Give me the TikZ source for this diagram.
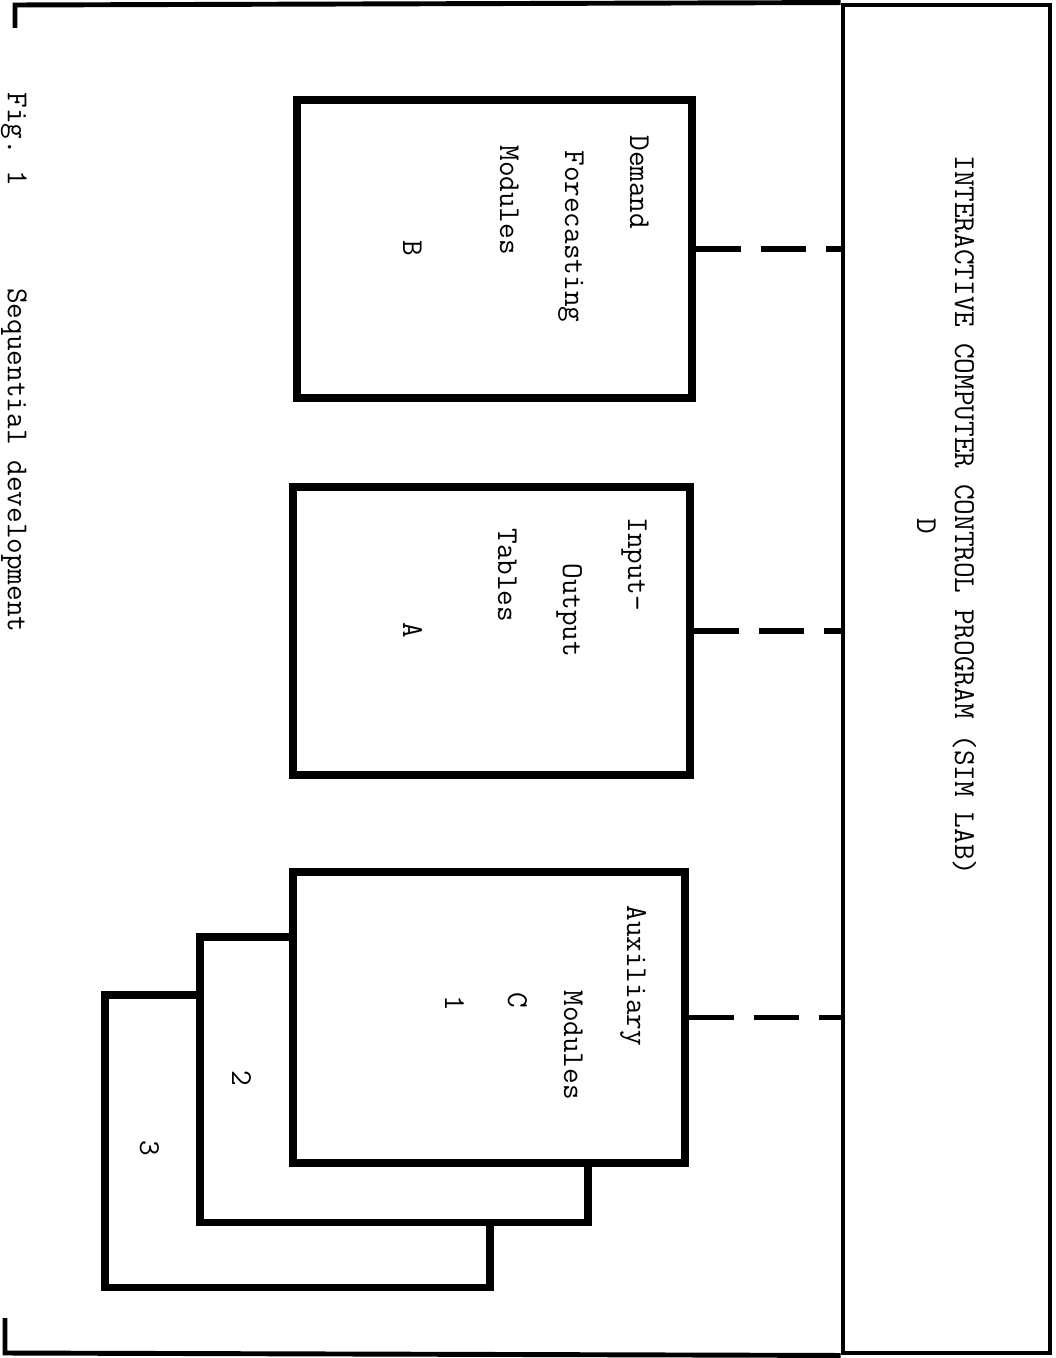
\documentclass[tikz,border=0pt]{standalone}
\usetikzlibrary{fit}

\tikzset{
  modbox/.style={draw, line width=4pt, fill=white, inner sep=0pt},
  panelline/.style={line width=2.8pt},
  link/.style={line width=3.4pt, dash pattern=on 0.9cm off 0.4cm},
  lbl/.style={rotate=-90, anchor=base west, inner sep=0pt,
    font=\ttfamily\fontsize{17.3}{20}\selectfont},
}

\begin{document}
\begin{tikzpicture}[x=0.02cm, y=-0.02cm]
  \useasboundingbox (0,0) rectangle (1055,1358);

  % control program panel and open frame
  \node[draw, line width=2.8pt, inner sep=0pt, fit={(843,5) (1050,1353)}] (D) {};
  \draw[panelline] (15,28) -- (15,5) -- (D.north west);
  \draw[panelline] (5,1318) -- (5,1353) -- (D.south west);

  \node[lbl] (dtitle) at (955,155) {INTERACTIVE COMPUTER CONTROL PROGRAM (SIM LAB)};
  \node[lbl] (dletter) at (917,518) {D};

  % module boxes, stack of C drawn back to front
  \node[modbox, fit={(297,100) (692,398)}] (B) {};
  \node[modbox, fit={(293,487) (690,775)}] (A) {};
  \node[modbox, fit={(105,995) (490,1287)}] (C3) {};
  \node[modbox, fit={(200,937) (588,1222)}] (C2) {};
  \node[modbox, fit={(293,872) (685,1163)}] (C1) {};

  \node[lbl] (bline1) at (630,135) {Demand};
  \node[lbl] (bline2) at (565,150) {Forecasting};
  \node[lbl] (bline3) at (500,145) {Modules};
  \node[lbl] (bletter) at (403,240) {B};

  \node[lbl] (aline1) at (628,517) {Input-};
  \node[lbl] (aline2) at (563,563) {Output};
  \node[lbl] (aline3) at (498,528) {Tables};
  \node[lbl] (aletter) at (403,622) {A};

  \node[lbl] (cline1) at (627,905) {Auxiliary};
  \node[lbl] (cline2) at (564,990) {Modules};
  \node[lbl] (cletter) at (508,992) {C};
  \node[lbl] (cone) at (445,995) {1};
  \node[lbl] (ctwo) at (232,1070) {2};
  \node[lbl] (cthree) at (140,1140) {3};

  % links to the control program
  \draw[link] (B.east) -- (B.east -| D.west);
  \draw[link] (A.east) -- (A.east -| D.west);
  \draw[link] (C1.east) -- (C1.east -| D.west);

  % caption along the left edge
  \node[lbl] (caption) at (8,92) {Fig.~1\hspace{2.04cm}Sequential development};
\end{tikzpicture}
\end{document}
